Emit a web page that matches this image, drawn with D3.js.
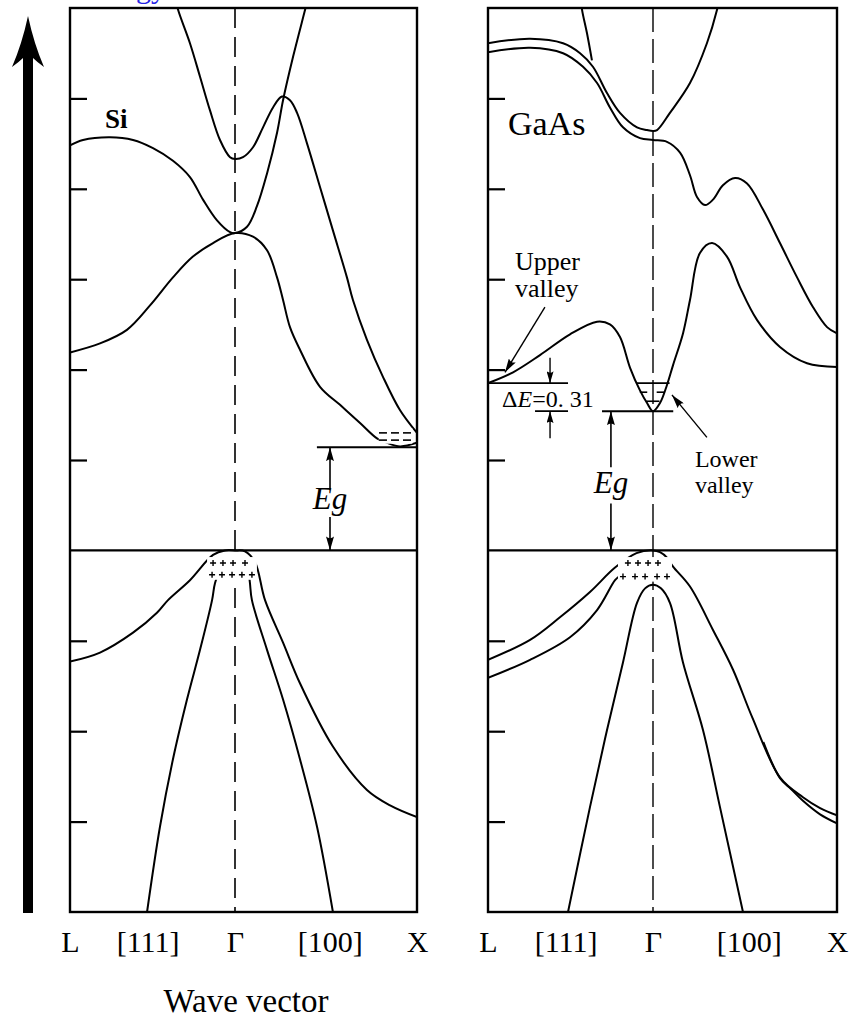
<!DOCTYPE html>
<html>
<head>
<meta charset="utf-8">
<script src="https://cdn.jsdelivr.net/npm/d3@7"></script>
<style>
body{margin:0;background:#fff}
svg{display:block}
text{font-family:"Liberation Serif","Times New Roman",serif;fill:#000}
</style>
</head>
<body>
<script>
// wave vector k: -1 = L, 0 = Gamma, 1 = X ; energy E in eV, valence band top = 0
const kTicks = [-1, -0.53, 0, 0.52, 1]
const kLabels = ["L", "[111]", "Γ", "[100]", "X"]
const eTicks = [-3, -2, -1, 1, 2, 3, 4, 5]

// Si bands [k, E]
const siBandA = [[-1,4.48],[-0.921,4.54],[-0.758,4.57],[-0.618,4.54],[-0.497,4.45],[-0.376,4.31],[-0.273,4.13],[-0.194,3.88],[-0.109,3.65],[-0.03,3.52],[0,3.51],[0.066,3.58],[0.121,3.81],[0.176,4.17],[0.231,4.62],[0.264,4.98],[0.319,5.46],[0.385,5.98],[0.4,6.1]]
const siBandB = [[-1,2.19],[-0.818,2.29],[-0.655,2.44],[-0.515,2.71],[-0.376,3.02],[-0.255,3.25],[-0.133,3.40],[0,3.51],[0.099,3.47],[0.176,3.32],[0.231,3.02],[0.264,2.77],[0.302,2.47],[0.357,2.22],[0.467,1.81],[0.577,1.61],[0.687,1.41],[0.78,1.24],[0.835,1.19],[0.907,1.15],[1,1.19]]
const siBandC = [[-0.36,6.1],[-0.345,5.98],[-0.273,5.61],[-0.212,5.24],[-0.152,4.87],[-0.091,4.54],[-0.03,4.35],[0,4.33],[0.044,4.35],[0.099,4.46],[0.154,4.68],[0.209,4.90],[0.258,5.02],[0.302,4.98],[0.341,4.84],[0.396,4.50],[0.467,4.02],[0.538,3.54],[0.615,3.02],[0.648,2.77],[0.725,2.33],[0.813,1.92],[0.907,1.55],[1,1.30]]
const siHeavy = [[-1,-1.23],[-0.818,-1.13],[-0.618,-0.91],[-0.473,-0.69],[-0.406,-0.55],[-0.273,-0.33],[-0.133,-0.05],[-0.061,0],[0,0],[0.055,-0.01],[0.11,-0.13],[0.165,-0.55],[0.264,-1.02],[0.357,-1.47],[0.538,-2.17],[0.725,-2.65],[0.852,-2.82],[1,-2.95]]
const siLightL = [[-0.079,-0.16],[-0.121,-0.36],[-0.139,-0.55],[-0.212,-1.10],[-0.291,-1.65],[-0.376,-2.31],[-0.455,-3.06],[-0.533,-4]]
const siLightR = [[0.071,-0.16],[0.082,-0.36],[0.093,-0.55],[0.176,-1.10],[0.264,-1.65],[0.357,-2.31],[0.451,-3.06],[0.538,-4]]
const siEg = 1.14
const siHoles = [[-0.133,-0.14],[-0.073,-0.14],[-0.012,-0.14],[0.055,-0.14],[-0.139,-0.27],[-0.079,-0.27],[-0.018,-0.27],[0.038,-0.27],[0.093,-0.27]]
const siElectrons = [[0.813,1.30],[0.879,1.30],[0.945,1.30],[0.813,1.22],[0.879,1.22],[0.945,1.22]]

// GaAs bands [k, E]
const gaBand1 = [[-1,1.85],[-0.848,1.97],[-0.685,2.16],[-0.503,2.39],[-0.339,2.53],[-0.261,2.50],[-0.2,2.36],[-0.139,2.02],[-0.079,1.77],[-0.036,1.63],[0,1.54],[0.038,1.63],[0.076,1.83],[0.109,2.05],[0.163,2.40],[0.201,2.77],[0.255,3.29],[0.321,3.40],[0.402,3.25],[0.473,2.91],[0.565,2.55],[0.69,2.25],[0.837,2.07],[1,2.03]]
const gaBand2 = [[-1,5.51],[-0.745,5.56],[-0.545,5.50],[-0.424,5.35],[-0.339,5.17],[-0.261,4.90],[-0.182,4.68],[-0.079,4.56],[0,4.54],[0.076,4.52],[0.147,4.40],[0.201,4.15],[0.239,3.91],[0.283,3.82],[0.326,3.88],[0.38,4.04],[0.446,4.12],[0.511,4.06],[0.598,3.77],[0.69,3.40],[0.783,3.02],[0.87,2.69],[0.946,2.47],[1,2.40]]
const gaBand3 = [[-1,5.61],[-0.745,5.66],[-0.545,5.61],[-0.442,5.50],[-0.364,5.35],[-0.279,5.06],[-0.2,4.84],[-0.097,4.68],[-0.036,4.65],[0,4.64],[0.022,4.65],[0.092,4.84],[0.201,5.17],[0.293,5.61],[0.348,5.98],[0.36,6.1]]
const gaBand4 = [[-0.437,6.1],[-0.43,5.98],[-0.4,5.72],[-0.37,5.42]]
const gaHeavy = [[-1,-1.21],[-0.745,-0.99],[-0.564,-0.74],[-0.382,-0.46],[-0.23,-0.19],[-0.1,-0.03],[0,0],[0.038,-0.02],[0.076,-0.08],[0.109,-0.18],[0.201,-0.40],[0.326,-0.88],[0.435,-1.32],[0.54,-1.85],[0.69,-2.51],[0.815,-2.73],[0.908,-2.85],[1,-2.93]]
const gaHeavy2 = [[0.6,-2.12],[0.69,-2.52],[0.75,-2.64],[0.815,-2.77],[0.908,-2.92],[1,-3.02]]
const gaLight = [[-1,-1.41],[-0.745,-1.21],[-0.503,-0.96],[-0.339,-0.66],[-0.23,-0.33],[-0.2,-0.28]]
const gaSplit = [[-0.515,-4],[-0.382,-2.84],[-0.279,-1.99],[-0.182,-1.24],[-0.097,-0.58],[-0.048,-0.42],[0,-0.38],[0.043,-0.42],[0.092,-0.58],[0.163,-1.24],[0.272,-1.99],[0.364,-2.84],[0.489,-4]]
const gaEg = 1.54
const gaUpper = 1.85
const gaHoles = [[-0.152,-0.14],[-0.091,-0.14],[-0.03,-0.14],[0.027,-0.14],[-0.182,-0.29],[-0.109,-0.29],[-0.048,-0.29],[0.022,-0.29],[0.076,-0.29]]

const svg = d3.select("body").append("svg").attr("width", 853).attr("height", 1024)
    .attr("font-family", "Liberation Serif, serif")
const y = d3.scaleLinear().domain([-4, 6]).range([912, 8])
const xSi = d3.scaleLinear().domain([-1, 0, 1]).range([70, 235, 417])
const xGa = d3.scaleLinear().domain([-1, 0, 1]).range([488, 653, 837])

let defs = svg.append("defs")
let mk = (id, w, h) => defs.append("marker").attr("id", id)
    .attr("markerUnits", "userSpaceOnUse").attr("viewBox", `0 0 ${w} ${h}`)
    .attr("refX", w).attr("refY", h/2).attr("markerWidth", w).attr("markerHeight", h)
    .attr("orient", "auto-start-reverse")
    .append("path").attr("d", `M0,0L${w},${h/2}L0,${h}Q${w*0.25},${h/2} 0,0Z`).attr("fill", "#000")
mk("arr", 14, 8)
mk("arrS", 12, 7)

// big energy arrow
svg.append("path")
    .attr("d", "M23,913L23,58Q19,62 12,67Q22,44 28,16Q34,44 44,67Q37,62 33,58L33,913Z")
    .attr("fill", "#000")
svg.append("text").attr("x", 166).attr("y", -2).attr("text-anchor", "end")
    .attr("font-size", 30).style("fill", "#2424e6").text("Energy")

function panel(x, id, dash, dw) {
    let g = svg.append("g")
    defs.append("clipPath").attr("id", id).append("rect")
        .attr("x", x(-1)).attr("y", y(6)).attr("width", x(1)-x(-1)).attr("height", y(-4)-y(6))
    let plot = g.append("g").attr("clip-path", `url(#${id})`)
    let line = d3.line().x(d=>x(d[0])).y(d=>y(d[1])).curve(d3.curveCatmullRom.alpha(0.5))
    // gamma line
    g.append("line").attr("x1", x(0)).attr("x2", x(0)).attr("y1", y(6)).attr("y2", y(-4))
        .attr("stroke", "#000").attr("stroke-width", dw).attr("stroke-dasharray", dash)
    // valence top
    g.append("line").attr("x1", x(-1)).attr("x2", x(1)).attr("y1", y(0)).attr("y2", y(0))
        .attr("stroke", "#000").attr("stroke-width", 2.2)
    // ticks
    g.append("g").attr("transform", `translate(${x(-1)},0)`)
        .call(d3.axisRight(y).tickValues(eTicks).tickSize(17).tickFormat(""))
        .call(a=>a.select(".domain").remove())
        .selectAll("line").attr("stroke-width", 2.2)
    // k labels
    g.append("g").attr("transform", `translate(0,${y(-4)})`)
        .call(d3.axisBottom(x).tickValues(kTicks).tickFormat((d,i)=>kLabels[i]).tickSize(0).tickPadding(19))
        .call(a=>a.select(".domain").remove())
        .attr("font-family", "Liberation Serif, serif")
        .selectAll("text").attr("font-size", 30)
    // frame
    g.append("rect").attr("x", x(-1)).attr("y", y(6)).attr("width", x(1)-x(-1)).attr("height", y(-4)-y(6))
        .attr("fill", "none").attr("stroke", "#000").attr("stroke-width", 2.4)
    return {g, plot, line}
}

function bands(p, list) {
    list.forEach(b => p.plot.append("path").attr("d", p.line(b))
        .attr("fill", "none").attr("stroke", "#000").attr("stroke-width", 2))
}
function seg(g, x1, y1, x2, y2, w, marker) {
    let l = g.append("line").attr("x1", x1).attr("y1", y1).attr("x2", x2).attr("y2", y2)
        .attr("stroke", "#000").attr("stroke-width", w)
    if (marker) l.attr("marker-end", `url(#${marker})`)
    return l
}
function pluses(p, x, pts) {
    p.g.append("rect").attr("x", x(pts[4][0])-5).attr("y", y(pts[0][1])-6)
        .attr("width", x(pts[8][0])-x(pts[4][0])+10).attr("height", y(pts[4][1])-y(pts[0][1])+11).attr("fill", "#fff")
    pts.forEach(d => p.g.append("path")
        .attr("d", `M${x(d[0])-3},${y(d[1])}h6M${x(d[0])},${y(d[1])-3}v6`)
        .attr("stroke", "#000").attr("stroke-width", 1.4))
}

// ---- Si ----
let si = panel(xSi, "clipSi", "20,9", 1.6)
bands(si, [siBandA, siBandB, siBandC, siHeavy, siLightL, siLightR])
pluses(si, xSi, siHoles)
si.g.append("rect").attr("x", xSi(0.79)).attr("y", y(1.35)).attr("width", xSi(0.975)-xSi(0.79))
    .attr("height", y(1.18)-y(1.35)).attr("fill", "#fff")
siElectrons.forEach(d => seg(si.g, xSi(d[0])-4, y(d[1]), xSi(d[0])+4, y(d[1]), 1.6))
seg(si.g, xSi(0.45), y(siEg), xSi(1), y(siEg), 2)
seg(si.g, xSi(0.522), y(0.67), xSi(0.522), y(siEg), 1.6, "arr")
seg(si.g, xSi(0.522), y(0.37), xSi(0.522), y(0), 1.6, "arr")
si.g.append("text").attr("x", xSi(0.522)).attr("y", y(0.46)).attr("text-anchor", "middle")
    .attr("font-size", 31).attr("font-style", "italic").text("Eg")
si.g.append("text").attr("x", xSi(-0.788)).attr("y", y(4.67)).attr("font-size", 27)
    .attr("font-weight", "bold").text("Si")

// ---- GaAs ----
let ga = panel(xGa, "clipGa", "24,7", 1.4)
bands(ga, [gaBand1, gaBand2, gaBand3, gaBand4, gaHeavy, gaHeavy2, gaLight, gaSplit])
pluses(ga, xGa, gaHoles)
// electrons in the Gamma valley
seg(ga.g, xGa(-0.097), y(gaUpper), xGa(0.09), y(gaUpper), 1.6)
seg(ga.g, xGa(-0.08), y(1.75), xGa(-0.035), y(1.75), 1.6)
seg(ga.g, xGa(0.02), y(1.75), xGa(0.065), y(1.75), 1.6)
seg(ga.g, xGa(-0.04), y(1.65), xGa(0.035), y(1.65), 1.6)
// levels
seg(ga.g, xGa(-1), y(gaUpper), xGa(-0.515), y(gaUpper), 1.8)
seg(ga.g, xGa(-0.715), y(gaEg), xGa(-0.515), y(gaEg), 1.8)
seg(ga.g, xGa(-0.309), y(gaEg), xGa(0.11), y(gaEg), 2)
seg(ga.g, xGa(-0.624), y(2.13), xGa(-0.624), y(gaUpper), 1.4, "arrS")
seg(ga.g, xGa(-0.624), y(1.24), xGa(-0.624), y(gaEg), 1.4, "arrS")
seg(ga.g, xGa(-0.255), y(0.92), xGa(-0.255), y(gaEg), 1.6, "arr")
seg(ga.g, xGa(-0.255), y(0.52), xGa(-0.255), y(0), 1.6, "arr")
ga.g.append("text").attr("x", xGa(-0.255)).attr("y", y(0.63)).attr("text-anchor", "middle")
    .attr("font-size", 31).attr("font-style", "italic").text("Eg")
let de = ga.g.append("text").attr("x", xGa(-0.915)).attr("y", y(1.59)).attr("font-size", 24)
de.append("tspan").text("Δ")
de.append("tspan").attr("font-style", "italic").text("E")
de.append("tspan").text("=0. 31")
seg(ga.g, xGa(-0.655), y(2.69), xGa(-0.897), y(1.97), 1.4, "arr")
seg(ga.g, xGa(0.293), y(1.25), xGa(0.103), y(1.72), 1.4, "arr")
ga.g.append("text").attr("x", xGa(-0.836)).attr("y", y(3.10)).attr("font-size", 26).text("Upper")
ga.g.append("text").attr("x", xGa(-0.836)).attr("y", y(2.80)).attr("font-size", 26).text("valley")
ga.g.append("text").attr("x", xGa(0.228)).attr("y", y(0.92)).attr("font-size", 24).text("Lower")
ga.g.append("text").attr("x", xGa(0.228)).attr("y", y(0.63)).attr("font-size", 24).text("valley")
ga.g.append("text").attr("x", xGa(-0.879)).attr("y", y(4.60)).attr("font-size", 34).text("GaAs")

svg.append("text").attr("x", 246).attr("y", 1012).attr("text-anchor", "middle")
    .attr("font-size", 33).text("Wave vector")
</script>
</body>
</html>
